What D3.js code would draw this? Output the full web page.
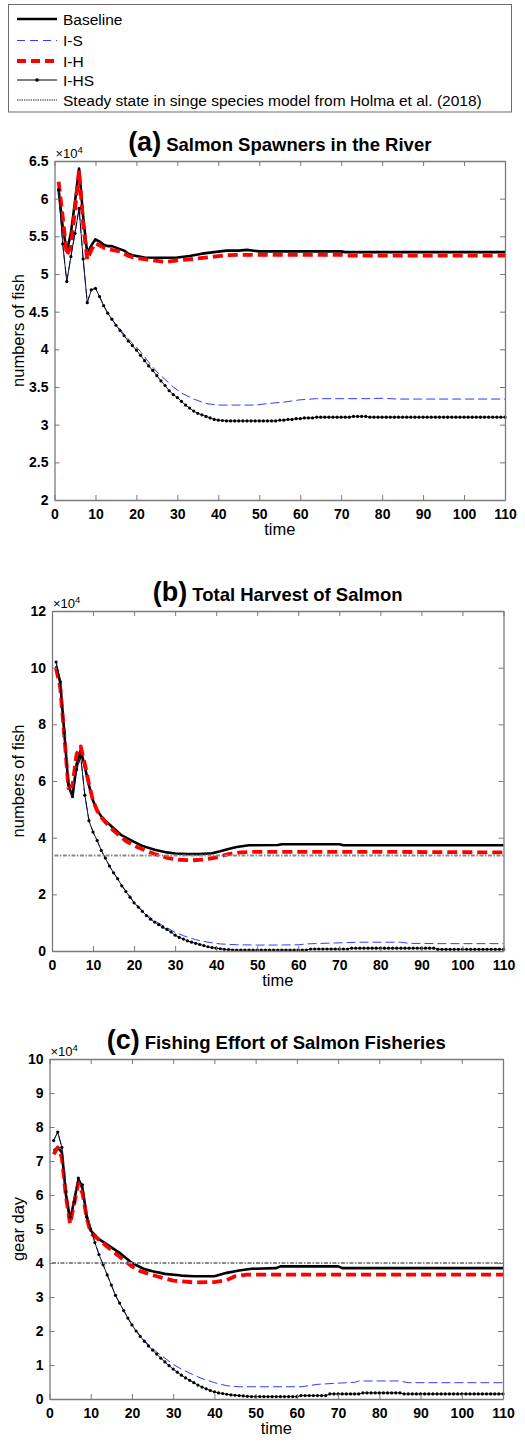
<!DOCTYPE html>
<html>
<head>
<meta charset="utf-8">
<script src="https://cdn.jsdelivr.net/npm/d3@7"></script>
<style>
body { margin: 0; background: #fff; }
svg { display: block; font-family: Arial, "Liberation Sans", sans-serif; }
</style>
</head>
<body>
<div id="chart"></div>
<script>
// all values are in units of 10^4 (as on the axes)
var years = d3.range(1, 111);
var xTicks = d3.range(0, 111, 10);

var seriesNames = ["Baseline", "I-S", "I-H", "I-HS", "Steady state in singe species model from Holma et al. (2018)"];

// ---- (a) Salmon spawners in the river
var aTicks = [2, 2.5, 3, 3.5, 4, 4.5, 5, 5.5, 6, 6.5];
var aBaseT = [1,2,3,4,5,6,7,8,9,10,11,12,13,14,15,16,17,18,19,20,22,25,28,30,33,36,39,42,45,47,50,60,70,71,80,90,100,110];
var aBaseV = [6.12,5.63,5.30,5.54,5.96,6.40,5.76,5.27,5.38,5.46,5.43,5.39,5.37,5.37,5.35,5.33,5.31,5.27,5.25,5.24,
  5.22,5.215,5.215,5.22,5.24,5.27,5.29,5.31,5.31,5.32,5.30,5.30,5.30,5.29,5.29,5.29,5.29,5.29];
var aIST = [1,2,3,4,5,6,7,8,9,10,11,12,13,14,15,16,17,18,19,20,21,22,23,25,27,29,31,34,37,40,44,49,52,56,60,64,70,76,80,84,90,100,110];
var aISV = [6.12,5.40,4.90,5.23,5.54,5.87,5.20,4.62,4.79,4.81,4.70,4.58,4.48,4.40,4.33,4.27,4.20,4.14,4.08,4.03,3.97,3.90,3.83,
  3.70,3.60,3.50,3.42,3.34,3.28,3.26,3.26,3.26,3.28,3.30,3.33,3.345,3.345,3.345,3.35,3.34,3.34,3.34,3.34];
var aIHT = [1,2,3,4,5,6,7,8,9,10,11,12,14,16,18,20,23,27,30,34,39,42,45,50,60,70,71,80,90,100,110];
var aIHV = [6.225,5.76,5.25,5.36,5.85,6.38,5.67,5.19,5.32,5.41,5.38,5.35,
  5.32,5.30,5.24,5.21,5.19,5.16,5.18,5.20,5.23,5.25,5.255,5.255,5.255,5.255,5.245,5.245,5.245,5.245,5.245];
var aIHSV = [6.12,5.40,4.90,5.23,5.54,5.87,5.20,4.62,4.79,4.81,4.70,4.58,4.48,4.40,4.32,4.25,4.18,4.11,4.05,3.99,
  3.92,3.85,3.78,3.72,3.65,3.58,3.52,3.45,3.40,3.36,3.31,3.26,3.22,3.18,3.15,3.13,3.11,3.09,3.07,3.06,
  3.055,3.05,3.05,3.05,3.05,3.05,3.05,3.05,3.05,3.05,3.05,3.05,3.05,3.05,3.06,3.06,3.07,3.07,3.08,3.08,
  3.09,3.09,3.09,3.10,3.10,3.10,3.10,3.10,3.10,3.10,3.10,3.10,3.11,3.11,3.11,3.11,3.10,3.10,3.10,3.10,
  3.10,3.10,3.10,3.10,3.10,3.10,3.10,3.10,3.10,3.10,3.10,3.10,3.10,3.10,3.10,3.10,3.10,3.10,3.10,3.10,
  3.10,3.10,3.10,3.10,3.10,3.10,3.10,3.10,3.10,3.10];

// ---- (b) Total harvest of salmon
var bTicks = [0, 2, 4, 6, 8, 10, 12];
var bBaseT = [1,2,3,4,5,6,7,8,9,10,11,12,13,15,17,20,22,25,28,30,33,36,39,41,43,45,48,55,56,70,71,110];
var bBaseV = [10.05,9.5,7.7,5.85,5.45,6.6,7.1,6.5,5.85,5.3,4.98,4.75,4.6,
  4.33,4.08,3.85,3.71,3.57,3.48,3.44,3.42,3.42,3.45,3.52,3.6,3.67,3.73,3.74,3.77,3.77,3.73,3.73];
var bIST = [1,2,3,4,5,6,7,8,9,10,11,12,13,14,15,17,20,23,26,28,30,32,35,38,41,45,50,55,60,62,66,75,85,87,95,110];
var bISV = [10.2,9.5,7.7,5.9,5.45,6.4,6.85,5.5,4.6,4.2,3.9,3.55,3.28,3.0,2.76,
  2.32,1.72,1.28,0.98,0.82,0.66,0.54,0.40,0.31,0.25,0.22,0.21,0.21,0.22,0.25,0.27,0.31,0.31,0.27,0.26,0.26];
var bIHT = [1,2,3,4,5,6,7,8,9,10,11,12,13,15,18,21,25,28,31,34,37,40,43,46,49,60,80,110];
var bIHV = [9.98,9.3,7.6,5.75,5.85,6.95,7.22,6.6,5.9,5.3,4.95,4.72,4.55,
  4.25,3.88,3.65,3.42,3.29,3.22,3.2,3.23,3.3,3.42,3.48,3.5,3.5,3.5,3.48];
var bIHSV = [10.2,9.5,7.7,5.9,5.45,6.4,6.85,5.5,4.6,4.2,3.9,3.55,3.28,3.0,2.76,2.55,2.3,2.1,1.9,1.7,
  1.55,1.4,1.25,1.12,1.02,0.93,0.84,0.76,0.67,0.56,0.48,0.42,0.36,0.31,0.27,0.23,0.19,0.15,0.12,0.10,
  0.08,0.06,0.05,0.035,0.035,0.035,0.035,0.035,0.035,0.035,0.035,0.035,0.035,0.035,0.035,0.035,0.035,0.035,0.035,0.035,
  0.035,0.035,0.07,0.07,0.07,0.07,0.07,0.07,0.07,0.07,0.07,0.07,0.10,0.10,0.10,0.10,0.10,0.10,0.10,0.10,
  0.10,0.10,0.10,0.10,0.10,0.10,0.10,0.10,0.10,0.10,0.10,0.10,0.10,0.06,0.06,0.06,0.06,0.06,0.06,0.06,
  0.06,0.06,0.06,0.06,0.06,0.06,0.06,0.06,0.06,0.06];
var bSteady = 3.37;

// ---- (c) Fishing effort of salmon fisheries
var cTicks = [0, 1, 2, 3, 4, 5, 6, 7, 8, 9, 10];
var cBaseT = [1,2,3,4,5,6,7,8,9,10,12,15,17,20,23,25,28,32,35,40,43,46,49,55,56,70,71,110];
var cBaseV = [7.3,7.4,7.25,6.0,5.25,5.85,6.45,6.2,5.4,4.95,
  4.7,4.46,4.3,4.0,3.82,3.76,3.68,3.63,3.61,3.61,3.71,3.78,3.83,3.85,3.9,3.9,3.85,3.85];
var cIST = [1,2,3,4,5,6,7,8,9,10,12,14,16,18,20,22,24,26,28,30,32,34,37,40,43,46,51,61,65,69,74,75,85,87,110];
var cISV = [7.6,7.85,7.4,6.1,5.35,5.8,6.5,6.3,5.35,5.0,
  4.25,3.65,3.05,2.6,2.18,1.86,1.6,1.38,1.2,1.02,0.88,0.76,0.6,0.48,0.39,0.36,0.36,0.36,0.43,0.46,0.49,0.53,0.53,0.48,0.48];
var cIHT = [1,2,3,4,5,6,7,8,9,10,15,20,22,26,30,35,40,43,45,48,60,80,110];
var cIHV = [7.2,7.4,7.1,5.95,5.15,5.75,6.35,6.05,5.35,4.88,
  4.38,3.9,3.76,3.61,3.48,3.43,3.44,3.5,3.61,3.66,3.66,3.66,3.66];
var cIHSV = [7.6,7.85,7.4,6.1,5.35,5.8,6.5,6.3,5.35,5.0,4.6,4.25,3.95,3.65,3.35,3.05,2.82,2.6,2.38,2.18,
  2.0,1.84,1.7,1.56,1.44,1.32,1.2,1.09,0.98,0.88,0.79,0.7,0.62,0.55,0.48,0.41,0.35,0.3,0.25,0.21,
  0.18,0.16,0.14,0.12,0.11,0.10,0.09,0.08,0.07,0.07,0.07,0.07,0.07,0.07,0.07,0.07,0.07,0.07,0.07,0.07,
  0.10,0.10,0.10,0.10,0.10,0.10,0.10,0.15,0.15,0.15,0.15,0.15,0.15,0.15,0.15,0.18,0.18,0.18,0.18,0.18,
  0.18,0.18,0.18,0.18,0.18,0.15,0.15,0.15,0.15,0.15,0.15,0.15,0.15,0.15,0.15,0.15,0.15,0.15,0.15,0.15,
  0.15,0.15,0.15,0.15,0.15,0.15,0.15,0.15,0.15,0.15];
var cSteady = 4.0;

var axisColor = "#7a7a7a";
var styles = {
  base:   {stroke: "#000", width: 2.6, dash: null},
  is:     {stroke: "#2f3dff", width: 1, dash: "9,4"},
  ih:     {stroke: "#ff0000", width: 3.8, dash: "10,5"},
  ihs:    {stroke: "#000", width: 0.9, dash: null},
  steady: {stroke: "#8a8a8a", width: 2, dash: "4,1.5,1.5,1.5"}
};

var svg = d3.select("#chart").append("svg")
  .attr("width", 525)
  .attr("height", 1444);
svg.append("rect").attr("width", 525).attr("height", 1444).attr("fill", "#fff");

// legend
var legend = svg.append("g");
legend.append("rect")
  .attr("x", 8.5).attr("y", 4.5).attr("width", 503).attr("height", 107.5)
  .attr("fill", "#fff").attr("stroke", "#6b6b6b").attr("stroke-width", 1);
var legendKeys = ["base", "is", "ih", "ihs", "steady"];
var legendY = [19, 40.5, 61, 80, 100];
legendKeys.forEach(function(k, i) {
  var s = styles[k];
  legend.append("line")
    .attr("x1", 17).attr("x2", 57).attr("y1", legendY[i]).attr("y2", legendY[i])
    .attr("stroke", s.stroke)
    .attr("stroke-width", k == "ihs" ? 1 : s.width)
    .attr("stroke-dasharray", k == "steady" ? "1.3,1" : (k == "is" ? "8,5" : (k == "ih" ? "9,5" : null)));
  if (k == "ihs") {
    legend.append("circle").attr("cx", 37).attr("cy", legendY[i]).attr("r", 1.8).attr("fill", "#000");
  }
  legend.append("text")
    .attr("x", 63).attr("y", legendY[i] + 5.5)
    .style("font-size", "15.5px")
    .text(seriesNames[i]);
});

function drawPanel(p) {
  var x = d3.scaleLinear().domain([0, 110]).range([p.left, p.right]);
  var y = d3.scaleLinear().domain([p.yTicks[0], p.yTicks[p.yTicks.length - 1]]).range([p.bottom, p.top]);
  var g = svg.append("g");

  var line = d3.line()
    .x(function(d) { return x(d[0]); })
    .y(function(d) { return y(d[1]); });

  function addSeries(t, v, s) {
    g.append("path")
      .datum(d3.zip(t, v))
      .attr("d", line)
      .attr("fill", "none")
      .attr("stroke", s.stroke)
      .attr("stroke-width", s.width)
      .attr("stroke-dasharray", s.dash)
      .attr("stroke-linejoin", "round");
  }
  addSeries(p.baseT, p.baseV, styles.base);
  addSeries(p.isT, p.isV, styles.is);
  addSeries(p.ihT, p.ihV, styles.ih);
  addSeries(years, p.ihsV, styles.ihs);
  g.append("g").selectAll("circle")
    .data(d3.zip(years, p.ihsV))
    .enter().append("circle")
      .attr("cx", function(d) { return x(d[0]); })
      .attr("cy", function(d) { return y(d[1]); })
      .attr("r", 1.6)
      .attr("fill", "#000");
  if (p.steady != null) {
    addSeries([0.6, 110], [p.steady, p.steady], styles.steady);
  }

  // box axes, ticks pointing in
  var fmt = function(d) { return String(d); };
  var axes = [
    {a: d3.axisBottom(x).tickValues(xTicks).tickSize(-5).tickPadding(9).tickFormat(fmt), tr: "translate(0," + p.bottom + ")"},
    {a: d3.axisTop(x).tickValues(xTicks).tickSize(-5).tickFormat(""), tr: "translate(0," + p.top + ")"},
    {a: d3.axisLeft(y).tickValues(p.yTicks).tickSize(-5).tickPadding(6).tickFormat(fmt), tr: "translate(" + p.left + ",0)"},
    {a: d3.axisRight(y).tickValues(p.yTicks).tickSize(-5).tickFormat(""), tr: "translate(" + p.right + ",0)"}
  ];
  axes.forEach(function(ax) {
    var ag = g.append("g").attr("transform", ax.tr).call(ax.a.tickSizeOuter(0));
    ag.select(".domain").attr("stroke", axisColor).attr("stroke-width", 1.3);
    ag.selectAll(".tick line").attr("stroke", axisColor).attr("stroke-width", 1);
    ag.selectAll(".tick text")
      .attr("fill", "#000")
      .style("font-size", "14px")
      .style("font-weight", "bold")
      .style("font-family", "Arial, 'Liberation Sans', sans-serif");
  });

  // x10^4 multiplier
  var m = g.append("text")
    .attr("x", p.left + 1).attr("y", p.top - 3)
    .style("font-size", "13px");
  m.append("tspan").text("\u00d7" + "10");
  m.append("tspan").attr("dy", -5).style("font-size", "9.5px").text("4");

  // title
  var tt = g.append("text")
    .attr("x", (p.left + p.right) / 2).attr("y", p.top - 10)
    .attr("text-anchor", "middle")
    .style("font-weight", "bold");
  tt.append("tspan").style("font-size", "27px").text(p.tag);
  tt.append("tspan").attr("dx", 5).style("font-size", "18.5px").text(p.title);

  g.append("text")
    .attr("x", (p.left + p.right) / 2).attr("y", p.bottom + 35)
    .attr("text-anchor", "middle")
    .style("font-size", "16.5px")
    .text("time");

  g.append("text")
    .attr("transform", "translate(" + 24 + "," + ((p.top + p.bottom) / 2) + ") rotate(-90)")
    .attr("text-anchor", "middle")
    .style("font-size", "16.5px")
    .text(p.ylabel);
}

drawPanel({
  tag: "(a)", title: "Salmon Spawners in the River", ylabel: "numbers of fish",
  left: 54.5, right: 505, top: 161, bottom: 500, yTicks: aTicks,
  baseT: aBaseT, baseV: aBaseV, isT: aIST, isV: aISV, ihT: aIHT, ihV: aIHV, ihsV: aIHSV, steady: null
});
drawPanel({
  tag: "(b)", title: "Total Harvest of Salmon", ylabel: "numbers of fish",
  left: 52, right: 503.5, top: 611, bottom: 951, yTicks: bTicks,
  baseT: bBaseT, baseV: bBaseV, isT: bIST, isV: bISV, ihT: bIHT, ihV: bIHV, ihsV: bIHSV, steady: bSteady
});
drawPanel({
  tag: "(c)", title: "Fishing Effort of Salmon Fisheries", ylabel: "gear day",
  left: 49.5, right: 503, top: 1059, bottom: 1399, yTicks: cTicks,
  baseT: cBaseT, baseV: cBaseV, isT: cIST, isV: cISV, ihT: cIHT, ihV: cIHV, ihsV: cIHSV, steady: cSteady
});
</script>
</body>
</html>
